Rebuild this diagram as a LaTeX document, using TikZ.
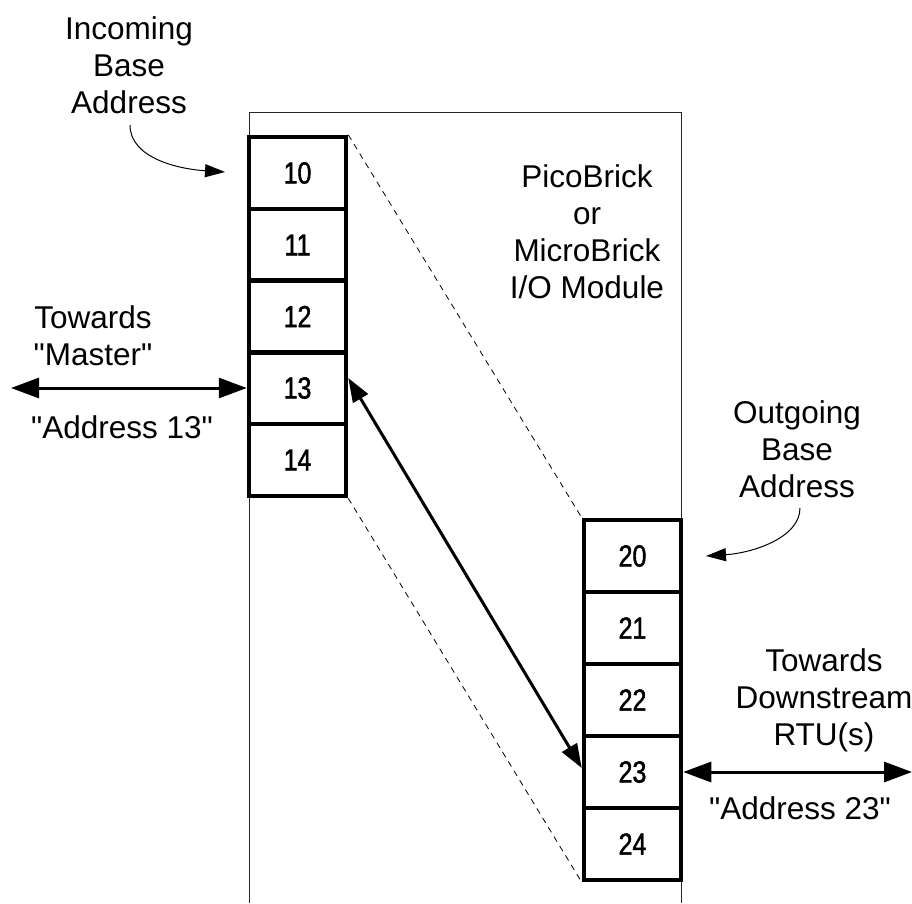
\documentclass[tikz,border=0pt]{standalone}
\usepackage{fontspec}
\setmainfont{Liberation Sans}
\newfontfamily\numfont[FakeStretch=0.82,FakeBold=1.5]{Liberation Sans}
\usetikzlibrary{arrows.meta}
\begin{document}
\begin{tikzpicture}[x=1pt,y=-1pt,
  cell/.style={draw,line width=4.5pt,minimum width=97pt,minimum height=72pt,inner sep=0pt,font=\numfont\fontsize{30.5}{36}\selectfont},
  lbl/.style={align=center,font=\fontsize{31.5}{37}\selectfont,inner sep=0pt},
  bigarrow/.style={line width=3pt,{Triangle[length=28pt,width=20pt]}-{Triangle[length=28pt,width=20pt]}},
  diagarrow/.style={line width=3pt,{Triangle[length=24pt,width=17pt]}-{Triangle[length=24pt,width=17pt]}},
  curvearrow/.style={line width=1pt,-{Triangle[length=20pt,width=13pt]}},
  guide/.style={line width=0.8pt,dash pattern=on 6pt off 5pt}
]
\useasboundingbox (0,0) rectangle (912,903);
% module outline
\draw[line width=1pt,black!85] (249,903) -- (249,112) -- (681,112) -- (681,903);
% left stack
\node[cell] (l10) at (297.5,173) {10};
\node[cell] (l11) at (297.5,245) {11};
\node[cell] (l12) at (297.5,316.5) {12};
\node[cell] (l13) at (297.5,388) {13};
\node[cell] (l14) at (297.5,460) {14};
% right stack
\node[cell] (r20) at (632.5,556) {20};
\node[cell] (r21) at (632.5,628) {21};
\node[cell] (r22) at (632.5,700) {22};
\node[cell] (r23) at (632.5,772) {23};
\node[cell] (r24) at (632.5,844) {24};
% dashed guides
\draw[guide] (l10.north east) -- (r20.north west);
\draw[guide] (l14.south east) -- (r24.south west);
% diagonal arrow
\draw[diagarrow] ([yshift=10pt]l13.east) -- ([yshift=4pt]r23.west);
% external arrows
\coordinate (mfar) at (11,388);
\coordinate (dfar) at (912,772);
\draw[bigarrow] (mfar) -- (l13.west);
\draw[bigarrow] (r23.east) -- (dfar);
% curved pointers
\coordinate (ia) at (130,125);
\coordinate (ib) at (225,172);
\draw[curvearrow] (ia) .. controls (130,158) and (178,169) .. (ib);
\coordinate (oa) at (800,508);
\coordinate (ob) at (706,556);
\draw[curvearrow] (oa) .. controls (800,538) and (752,553) .. (ob);
% labels
\node[lbl] (tin) at (129,65) {Incoming\\Base\\Address};
\node[lbl] (tmod) at (587,232) {PicoBrick\\or\\MicroBrick\\I/O Module};
\node[lbl] (tmas) at (93,336) {Towards\\\textquotedbl Master\textquotedbl};
\node[lbl] (ta13) at (122,427) {\textquotedbl Address 13\textquotedbl};
\node[lbl] (tout) at (797,449) {Outgoing\\Base\\Address};
\node[lbl] (tdown) at (824,700) {Towards\\Downstream\\RTU(s)};
\node[lbl] (ta23) at (800,808) {\textquotedbl Address 23\textquotedbl};
\end{tikzpicture}
\end{document}
